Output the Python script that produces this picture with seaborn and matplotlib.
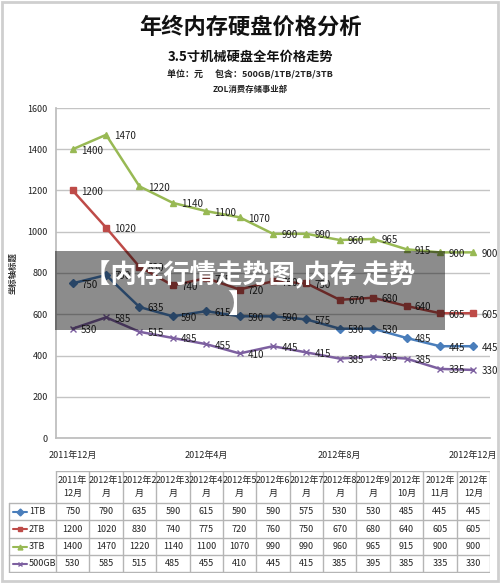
import numpy as np
import pandas as pd
import seaborn as sns
import matplotlib.pyplot as plt
from matplotlib.patches import Rectangle

months = ["2011年12月", "2012年1月", "2012年2月", "2012年3月", "2012年4月", "2012年5月",
          "2012年6月", "2012年7月", "2012年8月", "2012年9月", "2012年10月", "2012年11月",
          "2012年12月"]
header_labels = ["2011年\n12月", "2012年1\n月", "2012年2\n月", "2012年3\n月", "2012年4\n月",
                 "2012年5\n月", "2012年6\n月", "2012年7\n月", "2012年8\n月", "2012年9\n月",
                 "2012年\n10月", "2012年\n11月", "2012年\n12月"]
series_names = ["1TB", "2TB", "3TB", "500GB"]
price_1tb = [750, 790, 635, 590, 615, 590, 590, 575, 530, 530, 485, 445, 445]
price_2tb = [1200, 1020, 830, 740, 775, 720, 760, 750, 670, 680, 640, 605, 605]
price_3tb = [1400, 1470, 1220, 1140, 1100, 1070, 990, 990, 960, 965, 915, 900, 900]
price_500gb = [530, 585, 515, 485, 455, 410, 445, 415, 385, 395, 385, 335, 330]
xtick_shown = ["2011年12月", "2012年4月", "2012年8月", "2012年12月"]

colors = {"1TB": "#4A7EBB", "2TB": "#BE4B48", "3TB": "#98B954", "500GB": "#7D60A0"}
markers = {"1TB": "D", "2TB": "s", "3TB": "^", "500GB": "x"}

values = dict(zip(series_names, [price_1tb, price_2tb, price_3tb, price_500gb]))
df = pd.DataFrame([
    {"idx": i, "month": m, "series": s, "price": values[s][i]}
    for s in series_names for i, m in enumerate(months)
])

sns.set_theme(style="white")
plt.rcParams["font.family"] = ["Noto Sans CJK SC", "DejaVu Sans"]

W, H = 500, 583
fig = plt.figure(figsize=(W / 100, H / 100), dpi=100)
fig.patch.set_facecolor("white")


def px_axes(x0, y0, x1, y1):
    return fig.add_axes([x0 / W, 1 - y1 / H, (x1 - x0) / W, (y1 - y0) / H])


# figure frame
fig.patches.append(Rectangle((0.004, 0.003), 0.992, 0.994, transform=fig.transFigure,
                             fill=False, edgecolor="#CFCFCF", lw=2))

# titles
fig.text(0.5, 1 - 27 / H, "年终内存硬盘价格分析", ha="center", va="center",
         fontsize=16, fontweight="bold", color="#111111")
fig.text(0.5, 1 - 57 / H, "3.5寸机械硬盘全年价格走势", ha="center", va="center",
         fontsize=9.5, fontweight="bold", color="#111111")
fig.text(0.5, 1 - 75 / H, "单位：元      包含：500GB/1TB/2TB/3TB", ha="center", va="center",
         fontsize=6.5, fontweight="bold", color="#222222")
fig.text(0.5, 1 - 89 / H, "ZOL消费存储事业部", ha="center", va="center",
         fontsize=6, fontweight="bold", color="#222222")

# main chart
ax = px_axes(56, 108, 490, 438)
for s in series_names:
    sub = df[df["series"] == s]
    sns.lineplot(data=sub, x="idx", y="price", color=colors[s], marker=markers[s],
                 lw=1.8, markersize=5 if markers[s] != "D" else 4.5,
                 markeredgewidth=1.0, markeredgecolor=colors[s], ax=ax)
    for i, v in enumerate(values[s]):
        ax.annotate(str(v), (i, v), xytext=(6, -1), textcoords="offset points",
                    ha="left", va="center", fontsize=7, color="#222222")

ax.set_xlim(-0.5, 12.5)
ax.set_ylim(0, 1600)
ax.set_yticks(range(0, 1601, 200))
ax.set_yticklabels([str(v) for v in range(0, 1601, 200)], fontsize=6.5, color="#222222")
ax.set_xticks([months.index(m) for m in xtick_shown])
ax.set_xticklabels(xtick_shown, fontsize=6.5, color="#222222")
ax.tick_params(axis="both", length=0, pad=6)
ax.tick_params(axis="x", pad=9)
ax.grid(axis="y", color="#C4C4C4", lw=1)
ax.set_axisbelow(True)
for side in ["top", "right"]:
    ax.spines[side].set_visible(False)
for side in ["left", "bottom"]:
    ax.spines[side].set_color("#BDBDBD")
ax.set_xlabel("")
ax.set_ylabel("坐标轴标题", fontsize=6, fontweight="bold", color="#333333")
ax.yaxis.set_label_coords(-0.088, 0.5)

# table
tab = px_axes(8, 471, 490, 573)
tab.set_xlim(8, 490)
tab.set_ylim(573, 471)
tab.axis("off")
col_x = np.linspace(56, 490, len(months) + 1)
row_y = [471, 503, 520, 538, 555, 572]
line_kw = dict(color="#B5B5B5", lw=1)
tab.plot([56, 490], [row_y[0], row_y[0]], **line_kw)
for y in row_y[1:]:
    tab.plot([9, 490], [y, y], **line_kw)
tab.plot([9, 9], [row_y[1], row_y[-1]], **line_kw)
for x in col_x:
    tab.plot([x, x], [row_y[0], row_y[-1]], **line_kw)
for k, lab in enumerate(header_labels):
    tab.text((col_x[k] + col_x[k + 1]) / 2, (row_y[0] + row_y[1]) / 2, lab,
             ha="center", va="center", fontsize=6.5, color="#222222", linespacing=1.5)
for r, s in enumerate(series_names):
    yc = (row_y[r + 1] + row_y[r + 2]) / 2
    tab.plot([13, 27], [yc, yc], color=colors[s], lw=1.5)
    tab.plot([20], [yc], marker=markers[s], color=colors[s], markersize=3.5)
    tab.text(29, yc, s, ha="left", va="center", fontsize=6.5, color="#222222")
    for k, v in enumerate(values[s]):
        tab.text((col_x[k] + col_x[k + 1]) / 2, yc, str(v), ha="center", va="center",
                 fontsize=6.5, color="#222222")

# overlay banner
fig.patches.append(Rectangle((55 / W, 1 - 330 / H), 390 / W, 79 / H, transform=fig.transFigure,
                             facecolor="black", alpha=0.45, edgecolor="none", zorder=10))
fig.text(250 / W, 1 - 275 / H, "【内存行情走势图,内存 走势", ha="center", va="center",
         fontsize=19, fontweight="bold", color="white", zorder=11)
fig.text(240 / W, 1 - 305 / H, "】", ha="center", va="center",
         fontsize=19, fontweight="bold", color="white", zorder=11)

fig.savefig("out.png", dpi=100)
